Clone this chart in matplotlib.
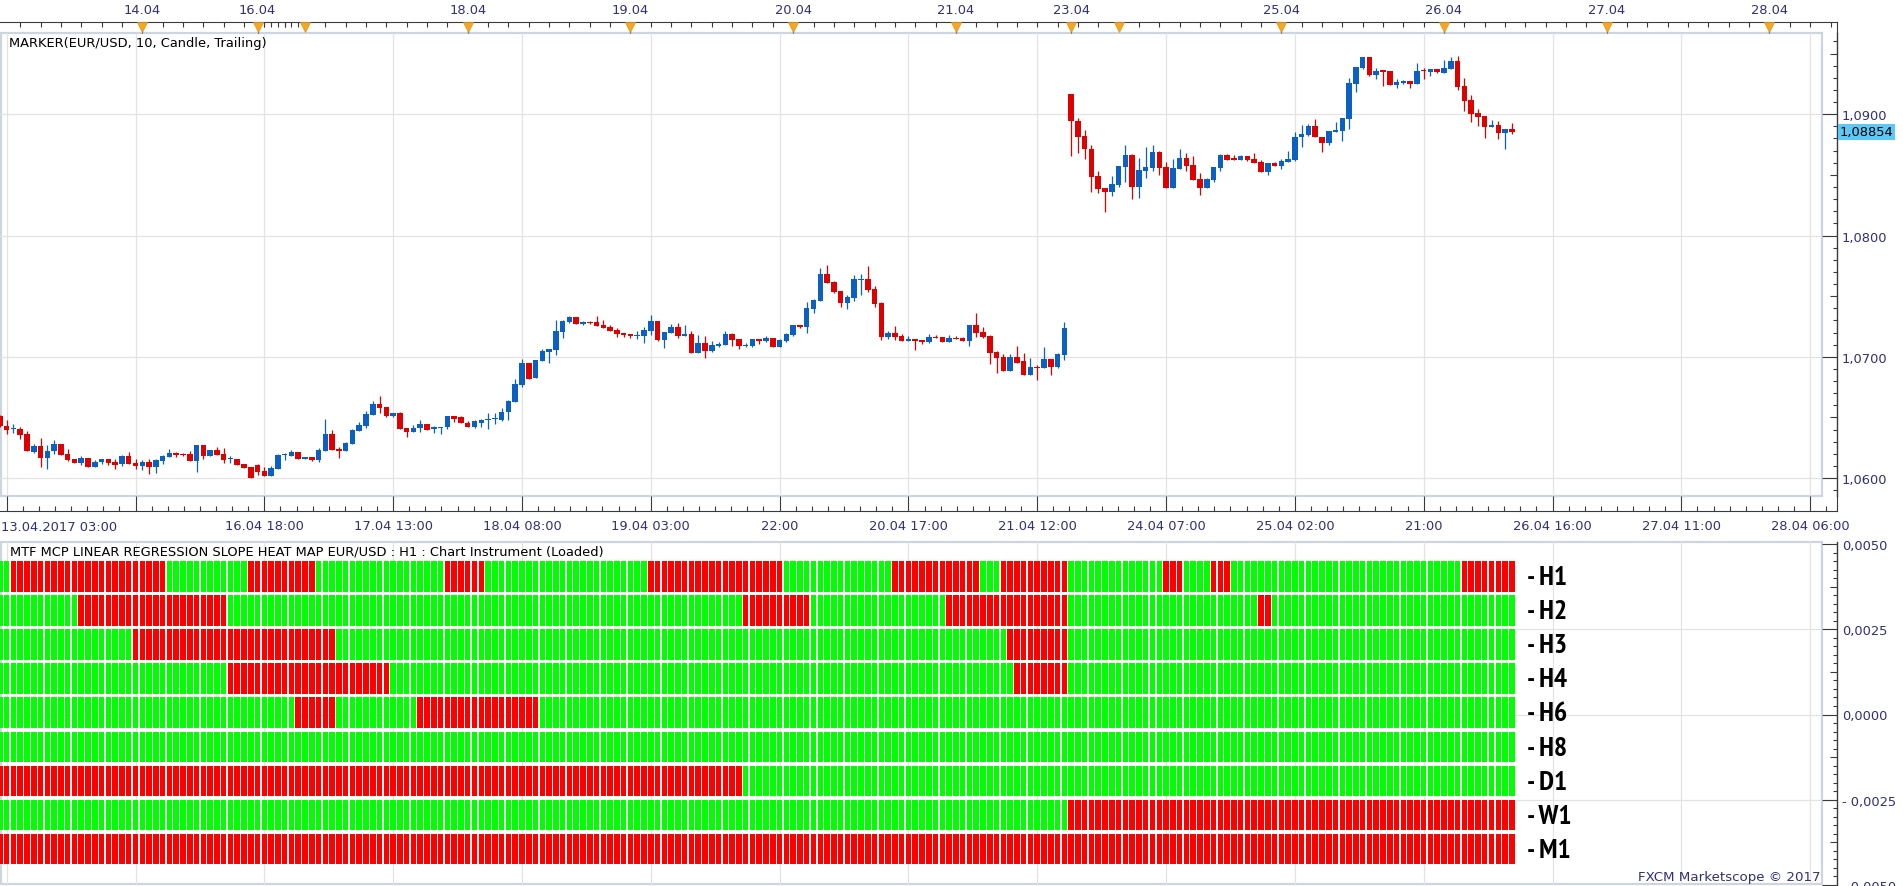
import numpy as np
import matplotlib
matplotlib.use("Agg")
import matplotlib.pyplot as plt
from matplotlib import font_manager as fm
from matplotlib.patches import Rectangle
from matplotlib.ticker import FixedLocator, FuncFormatter

# ---- data: EUR/USD H1 candles (open, high, low, close) ----
opens = [1.06509, 1.06432, 1.06402, 1.06404, 1.06366, 1.06217, 1.06267, 1.06162, 1.06220, 1.06283,
         1.06201, 1.06160, 1.06121, 1.06168, 1.06094, 1.06129, 1.06154, 1.06135, 1.06113, 1.06184,
         1.06127, 1.06102, 1.06135, 1.06094, 1.06143, 1.06176, 1.06209, 1.06201, 1.06201, 1.06143,
         1.06275, 1.06184, 1.06234, 1.06201, 1.06154, 1.06160, 1.06118, 1.06094, 1.06110, 1.06061,
         1.06019, 1.06077, 1.06187, 1.06184, 1.06217, 1.06160, 1.06176, 1.06151, 1.06226, 1.06366,
         1.06242, 1.06226, 1.06283, 1.06391, 1.06432, 1.06523, 1.06613, 1.06589, 1.06516, 1.06533,
         1.06409, 1.06379, 1.06409, 1.06442, 1.06401, 1.06412, 1.06420, 1.06508, 1.06500, 1.06458,
         1.06420, 1.06458, 1.06478, 1.06486, 1.06483, 1.06541, 1.06626, 1.06764, 1.06953, 1.06824,
         1.06962, 1.07039, 1.07055, 1.07204, 1.07283, 1.07325, 1.07270, 1.07283, 1.07283, 1.07259,
         1.07242, 1.07217, 1.07193, 1.07184, 1.07168, 1.07171, 1.07209, 1.07292, 1.07135, 1.07195,
         1.07242, 1.07171, 1.07184, 1.07030, 1.07110, 1.07047, 1.07085, 1.07094, 1.07184, 1.07143,
         1.07088, 1.07088, 1.07143, 1.07127, 1.07151, 1.07077, 1.07127, 1.07176, 1.07259, 1.07242,
         1.07391, 1.07457, 1.07679, 1.07613, 1.07539, 1.07440, 1.07481, 1.07630, 1.07638, 1.07556,
         1.07440, 1.07160, 1.07193, 1.07168, 1.07127, 1.07143, 1.07135, 1.07118, 1.07160, 1.07160,
         1.07118, 1.07151, 1.07151, 1.07127, 1.07259, 1.07201, 1.07168, 1.07036, 1.06995, 1.06887,
         1.06995, 1.06962, 1.06854, 1.06920, 1.06904, 1.06978, 1.06920, 1.07011, 1.09168, 1.08945,
         1.08821, 1.08714, 1.08491, 1.08392, 1.08362, 1.08420, 1.08568, 1.08665, 1.08403, 1.08535,
         1.08557, 1.08689, 1.08566, 1.08395, 1.08552, 1.08640, 1.08582, 1.08467, 1.08395, 1.08461,
         1.08560, 1.08665, 1.08634, 1.08626, 1.08656, 1.08632, 1.08607, 1.08527, 1.08599, 1.08577,
         1.08610, 1.08623, 1.08808, 1.08830, 1.08904, 1.08813, 1.08766, 1.08854, 1.08863, 1.08964,
         1.09250, 1.09382, 1.09473, 1.09325, 1.09358, 1.09358, 1.09237, 1.09261, 1.09275, 1.09250,
         1.09360, 1.09349, 1.09374, 1.09341, 1.09374, 1.09440, 1.09234, 1.09118, 1.09011, 1.08986,
         1.08896, 1.08912, 1.08846, 1.08879]
highs = [1.06523, 1.06481, 1.06448, 1.06421, 1.06388, 1.06283, 1.06333, 1.06275, 1.06316, 1.06283,
         1.06242, 1.06160, 1.06184, 1.06168, 1.06151, 1.06154, 1.06154, 1.06160, 1.06193, 1.06217,
         1.06160, 1.06151, 1.06160, 1.06160, 1.06193, 1.06242, 1.06217, 1.06209, 1.06226, 1.06275,
         1.06275, 1.06234, 1.06259, 1.06250, 1.06184, 1.06160, 1.06118, 1.06094, 1.06118, 1.06094,
         1.06102, 1.06201, 1.06209, 1.06234, 1.06217, 1.06176, 1.06176, 1.06250, 1.06490, 1.06399,
         1.06259, 1.06300, 1.06407, 1.06465, 1.06556, 1.06638, 1.06679, 1.06589, 1.06533, 1.06549,
         1.06417, 1.06434, 1.06475, 1.06442, 1.06428, 1.06425, 1.06508, 1.06508, 1.06508, 1.06467,
         1.06475, 1.06491, 1.06533, 1.06533, 1.06574, 1.06640, 1.06821, 1.06978, 1.06953, 1.06970,
         1.07061, 1.07061, 1.07300, 1.07300, 1.07333, 1.07325, 1.07292, 1.07292, 1.07333, 1.07300,
         1.07259, 1.07234, 1.07193, 1.07184, 1.07209, 1.07242, 1.07341, 1.07292, 1.07201, 1.07267,
         1.07275, 1.07259, 1.07209, 1.07176, 1.07168, 1.07127, 1.07118, 1.07209, 1.07193, 1.07143,
         1.07110, 1.07143, 1.07143, 1.07168, 1.07151, 1.07143, 1.07193, 1.07259, 1.07259, 1.07448,
         1.07473, 1.07729, 1.07754, 1.07622, 1.07539, 1.07506, 1.07671, 1.07679, 1.07745, 1.07580,
         1.07448, 1.07209, 1.07250, 1.07184, 1.07168, 1.07143, 1.07135, 1.07184, 1.07176, 1.07160,
         1.07176, 1.07168, 1.07160, 1.07259, 1.07358, 1.07242, 1.07176, 1.07044, 1.07019, 1.07019,
         1.07085, 1.07028, 1.06986, 1.06929, 1.07077, 1.06978, 1.07028, 1.07283, 1.09168, 1.08970,
         1.08871, 1.08747, 1.08533, 1.08392, 1.08491, 1.08574, 1.08747, 1.08673, 1.08640, 1.08731,
         1.08747, 1.08698, 1.08607, 1.08632, 1.08714, 1.08681, 1.08656, 1.08516, 1.08475, 1.08566,
         1.08673, 1.08673, 1.08665, 1.08665, 1.08656, 1.08681, 1.08623, 1.08599, 1.08607, 1.08632,
         1.08698, 1.08854, 1.08912, 1.08920, 1.08962, 1.08813, 1.08863, 1.08937, 1.08970, 1.09300,
         1.09391, 1.09473, 1.09473, 1.09382, 1.09358, 1.09358, 1.09292, 1.09283, 1.09275, 1.09424,
         1.09382, 1.09374, 1.09374, 1.09448, 1.09473, 1.09481, 1.09300, 1.09160, 1.09044, 1.08986,
         1.08953, 1.08945, 1.08879, 1.08929]
lows = [1.06421, 1.06366, 1.06371, 1.06325, 1.06220, 1.06209, 1.06094, 1.06077, 1.06201, 1.06193,
        1.06138, 1.06121, 1.06105, 1.06088, 1.06094, 1.06113, 1.06110, 1.06077, 1.06096, 1.06118,
        1.06077, 1.06069, 1.06036, 1.06044, 1.06118, 1.06176, 1.06176, 1.06184, 1.06143, 1.06052,
        1.06160, 1.06184, 1.06193, 1.06127, 1.06127, 1.06110, 1.06085, 1.06003, 1.06028, 1.06019,
        1.06019, 1.06077, 1.06151, 1.06184, 1.06160, 1.06160, 1.06143, 1.06135, 1.06226, 1.06234,
        1.06168, 1.06226, 1.06283, 1.06391, 1.06415, 1.06523, 1.06539, 1.06506, 1.06502, 1.06401,
        1.06337, 1.06379, 1.06379, 1.06395, 1.06370, 1.06362, 1.06403, 1.06461, 1.06453, 1.06420,
        1.06412, 1.06420, 1.06403, 1.06445, 1.06469, 1.06478, 1.06626, 1.06755, 1.06813, 1.06824,
        1.06962, 1.06948, 1.07014, 1.07154, 1.07275, 1.07270, 1.07261, 1.07270, 1.07250, 1.07234,
        1.07212, 1.07162, 1.07162, 1.07154, 1.07146, 1.07113, 1.07179, 1.07127, 1.07072, 1.07195,
        1.07154, 1.07171, 1.07030, 1.07030, 1.06989, 1.07039, 1.07077, 1.07094, 1.07088, 1.07063,
        1.07080, 1.07080, 1.07102, 1.07118, 1.07077, 1.07077, 1.07118, 1.07168, 1.07234, 1.07193,
        1.07358, 1.07457, 1.07605, 1.07523, 1.07407, 1.07391, 1.07457, 1.07506, 1.07531, 1.07407,
        1.07135, 1.07143, 1.07135, 1.07127, 1.07127, 1.07052, 1.07102, 1.07110, 1.07151, 1.07118,
        1.07118, 1.07143, 1.07127, 1.07085, 1.07160, 1.07151, 1.06937, 1.06863, 1.06887, 1.06879,
        1.06945, 1.06846, 1.06854, 1.06805, 1.06904, 1.06854, 1.06904, 1.06970, 1.08659, 1.08684,
        1.08632, 1.08362, 1.08354, 1.08197, 1.08329, 1.08403, 1.08445, 1.08304, 1.08313, 1.08478,
        1.08535, 1.08502, 1.08395, 1.08395, 1.08552, 1.08535, 1.08461, 1.08337, 1.08395, 1.08445,
        1.08535, 1.08626, 1.08626, 1.08626, 1.08618, 1.08601, 1.08527, 1.08502, 1.08577, 1.08552,
        1.08610, 1.08618, 1.08733, 1.08824, 1.08808, 1.08692, 1.08750, 1.08854, 1.08783, 1.08882,
        1.09179, 1.09369, 1.09316, 1.09294, 1.09234, 1.09237, 1.09212, 1.09253, 1.09220, 1.09250,
        1.09294, 1.09316, 1.09336, 1.09341, 1.09374, 1.09201, 1.09028, 1.08937, 1.08904, 1.08805,
        1.08896, 1.08797, 1.08714, 1.08838]
closes = [1.06426, 1.06399, 1.06410, 1.06358, 1.06220, 1.06267, 1.06162, 1.06226, 1.06283, 1.06193,
          1.06151, 1.06121, 1.06168, 1.06094, 1.06135, 1.06154, 1.06127, 1.06110, 1.06184, 1.06118,
          1.06102, 1.06135, 1.06094, 1.06151, 1.06184, 1.06209, 1.06193, 1.06193, 1.06143, 1.06275,
          1.06184, 1.06234, 1.06193, 1.06151, 1.06162, 1.06110, 1.06085, 1.06003, 1.06052, 1.06019,
          1.06085, 1.06193, 1.06195, 1.06217, 1.06160, 1.06176, 1.06151, 1.06234, 1.06366, 1.06234,
          1.06226, 1.06292, 1.06399, 1.06440, 1.06531, 1.06613, 1.06580, 1.06514, 1.06533, 1.06401,
          1.06379, 1.06417, 1.06442, 1.06395, 1.06420, 1.06425, 1.06508, 1.06491, 1.06453, 1.06420,
          1.06467, 1.06483, 1.06491, 1.06494, 1.06549, 1.06632, 1.06772, 1.06953, 1.06821, 1.06970,
          1.07044, 1.07061, 1.07209, 1.07292, 1.07325, 1.07270, 1.07283, 1.07275, 1.07250, 1.07234,
          1.07212, 1.07184, 1.07176, 1.07171, 1.07176, 1.07217, 1.07292, 1.07135, 1.07201, 1.07242,
          1.07171, 1.07184, 1.07030, 1.07110, 1.07047, 1.07094, 1.07102, 1.07184, 1.07138, 1.07088,
          1.07096, 1.07143, 1.07127, 1.07151, 1.07077, 1.07135, 1.07184, 1.07259, 1.07242, 1.07399,
          1.07465, 1.07679, 1.07605, 1.07531, 1.07440, 1.07490, 1.07638, 1.07638, 1.07547, 1.07432,
          1.07160, 1.07193, 1.07160, 1.07127, 1.07143, 1.07127, 1.07118, 1.07160, 1.07151, 1.07118,
          1.07151, 1.07143, 1.07127, 1.07259, 1.07193, 1.07160, 1.07028, 1.06986, 1.06887, 1.06995,
          1.06953, 1.06854, 1.06920, 1.06904, 1.06978, 1.06920, 1.07019, 1.07234, 1.08940, 1.08816,
          1.08709, 1.08486, 1.08387, 1.08362, 1.08425, 1.08574, 1.08665, 1.08403, 1.08541, 1.08566,
          1.08689, 1.08560, 1.08395, 1.08557, 1.08640, 1.08577, 1.08461, 1.08395, 1.08467, 1.08566,
          1.08665, 1.08626, 1.08626, 1.08656, 1.08626, 1.08601, 1.08527, 1.08599, 1.08577, 1.08615,
          1.08632, 1.08813, 1.08838, 1.08904, 1.08808, 1.08766, 1.08863, 1.08871, 1.08970, 1.09259,
          1.09391, 1.09473, 1.09325, 1.09358, 1.09352, 1.09237, 1.09267, 1.09275, 1.09250, 1.09358,
          1.09355, 1.09374, 1.09344, 1.09382, 1.09440, 1.09226, 1.09110, 1.09003, 1.08978, 1.08896,
          1.08912, 1.08846, 1.08879, 1.08854]
last_price = 1.08854

# heat map rows and the bar ranges (start, end) that are red (slope down); the rest is green
heat_rows = ["H1", "H2", "H3", "H4", "H6", "H8", "D1", "W1", "M1"]
red_runs = {
    "H1": [(2, 25), (37, 47), (66, 72), (96, 116), (132, 145), (148, 158), (172, 175), (179, 182), (216, 224)],
    "H2": [(12, 34), (110, 120), (140, 158), (186, 188)],
    "H3": [(20, 50), (149, 158)],
    "H4": [(34, 58), (150, 158)],
    "H6": [(44, 50), (62, 80)],
    "H8": [],
    "D1": [(0, 110)],
    "W1": [(158, 224)],
    "M1": [(0, 224)],
}

# time axes (bar index -> label)
bottom_tick_idx = [1, 20, 39, 58, 77, 96, 115, 134, 153, 172, 191, 210, 229, 248, 267]
bottom_labels = ["", "", "16.04 18:00", "17.04 13:00", "18.04 08:00", "19.04 03:00", "22:00",
                 "20.04 17:00", "21.04 12:00", "24.04 07:00", "25.04 02:00", "21:00",
                 "26.04 16:00", "27.04 11:00", "28.04 06:00"]
first_label = "13.04.2017 03:00"
top_label_idx = [21, 38, 69, 93, 117, 141, 158, 189, 213, 237, 261]
top_labels = ["14.04", "16.04", "18.04", "19.04", "20.04", "21.04", "23.04", "25.04", "26.04", "27.04", "28.04"]
top_marker_idx = [21, 38, 45, 69, 93, 117, 141, 158, 165, 189, 213, 237, 261]

# ---- layout helpers (pixels of the 1903x887 image) ----
W, H, DPI = 1903, 887, 100
STEP = 6.78          # px per bar


def idx(px):
    return (px + 0.1) / STEP


def rect(x0, y0, x1, y1):
    return [x0 / W, 1 - y1 / H, (x1 - x0) / W, (y1 - y0) / H]


def price_at(y):
    return 1.09 - (y - 115.2) / 12130


def slope_at(y):
    return 0.005 - (y - 545) / 34100


XLIM = (idx(0), idx(1837))
NAVY = "#30307a"
AXIS = "#3a3a3a"
GRID = "#e3e3e3"
FRAME = "#cdd5df"
BLUE = "#0a61c3"
RED = "#df0000"
HRED = "#ff0000"
HGREEN = "#00ff00"
FS = 9.4

plt.rcParams["font.family"] = ["DejaVu Sans"]

# narrow face for the row labels: prefer a "Narrow" family, then a condensed one
narrow_prop = None
fonts = fm.fontManager.ttflist
pref = ([f for f in fonts if "Narrow" in f.name and f.weight in ("bold", 700)] +
        [f for f in fonts if "Narrow" in f.name] +
        [f for f in fonts if ("Condensed" in f.name or "condensed" in str(f.stretch)) and f.weight in ("bold", 700)] +
        [f for f in fonts if "Condensed" in f.name or "condensed" in str(f.stretch)])
if pref:
    narrow_prop = fm.FontProperties(fname=pref[0].fname)
else:
    narrow_prop = fm.FontProperties(family="DejaVu Sans", weight="bold")

fig = plt.figure(figsize=(W / DPI, H / DPI), dpi=DPI)
fig.patch.set_facecolor("white")


def style_right_axis(ax, majors, minors, mids, fmt, ax_width_px=1837):
    for s in ["top", "left", "bottom"]:
        ax.spines[s].set_visible(False)
    ax.spines["right"].set_color(AXIS)
    ax.spines["right"].set_linewidth(1.0)
    ax.yaxis.tick_right()
    ax.yaxis.set_major_locator(FixedLocator(majors))
    ax.yaxis.set_minor_locator(FixedLocator(minors))
    ax.yaxis.set_major_formatter(FuncFormatter(fmt))
    ax.tick_params(axis="y", which="major", direction="in", length=10.8, width=0.8,
                   color=AXIS, labelcolor=NAVY, labelsize=FS, pad=3.6)
    ax.tick_params(axis="y", which="minor", direction="in", length=3.0, width=0.8, color=AXIS)
    ax.hlines(mids, 1 - 7 / ax_width_px, 1, transform=ax.get_yaxis_transform(),
              colors=AXIS, lw=0.8, clip_on=False)


# ---- price panel ----
ax1 = fig.add_axes(rect(0, 34, 1837, 497))
ax1.set_facecolor("none")
ax1.set_xlim(XLIM)
ax1.set_ylim(price_at(497), price_at(34))
p_minor = [round(v, 3) for v in np.arange(1.057, 1.0975, 0.001) if round(v * 1000) % 5 != 0]
style_right_axis(ax1, [1.06, 1.07, 1.08, 1.09], p_minor, [1.065, 1.075, 1.085, 1.095],
                 lambda v, _: f"{v:.4f}".replace(".", ","))
ax1.set_xticks(bottom_tick_idx)
ax1.tick_params(axis="x", length=0, labelbottom=False)
ax1.grid(True, which="major", color=GRID, lw=0.9)
ax1.set_axisbelow(True)

o = np.array(opens)
c = np.array(closes)
x = np.arange(len(o))
cols = np.where(c > o, BLUE, RED)
ax1.vlines(x, lows, highs, colors=cols, lw=0.9, zorder=3)
ax1.bar(x, np.maximum(np.abs(c - o), 0.00009), bottom=np.minimum(o, c), width=0.82,
        color=cols, linewidth=0, zorder=4)

ax1.text(1 + 2.5 / 1837, last_price, f"{last_price:.5f}".replace(".", ","),
         transform=ax1.get_yaxis_transform(), ha="left", va="center", fontsize=FS, color="black",
         bbox=dict(boxstyle="square,pad=0.12", fc="#5cc8f6", ec="none"), clip_on=False, zorder=6)
ax1.text(idx(9), price_at(44), "MARKER(EUR/USD, 10, Candle, Trailing)", ha="left", va="center",
         fontsize=FS, color="black")

# ---- top date axis ----
ax_top = fig.add_axes(rect(0, 23, 1837, 34))
ax_top.set_facecolor("none")
ax_top.set_xlim(XLIM)
ax_top.set_ylim(0, 1)
for s in ["left", "bottom"]:
    ax_top.spines[s].set_visible(False)
for s in ["top", "right"]:
    ax_top.spines[s].set_color(AXIS)
ax_top.set_yticks([])
ax_top.xaxis.tick_top()
ax_top.set_xticks(top_label_idx)
ax_top.set_xticklabels(top_labels)
top_minor = [v for v in list(range(0, 271, 3)) + list(range(38, 46)) if v not in top_marker_idx]
ax_top.xaxis.set_minor_locator(FixedLocator(top_minor))
ax_top.tick_params(axis="x", which="major", direction="in", length=7.9, width=0.8, color=AXIS,
                   labelcolor=NAVY, labelsize=FS, pad=4.0)
ax_top.tick_params(axis="x", which="minor", direction="in", length=3.6, width=0.8, color=AXIS)
ax_top.plot(top_marker_idx, [0.55] * len(top_marker_idx), ls="none", marker="v", ms=6.5,
            color="#f7a624", mec="#e39512", mew=0.5, clip_on=False, zorder=5)

# ---- bottom time axis ----
ax_bot = fig.add_axes(rect(0, 497, 1837, 512))
ax_bot.set_facecolor("none")
ax_bot.set_xlim(XLIM)
for s in ["left", "top"]:
    ax_bot.spines[s].set_visible(False)
for s in ["bottom", "right"]:
    ax_bot.spines[s].set_color(AXIS)
ax_bot.set_yticks([])
ax_bot.set_xticks(bottom_tick_idx)
ax_bot.set_xticklabels(bottom_labels)
ax_bot.xaxis.set_minor_locator(FixedLocator([1 + 19 * k / 8 for k in range(0, 8 * 15)]))
ax_bot.tick_params(axis="x", which="major", direction="in", length=10.8, width=0.8, color=AXIS,
                   labelcolor=NAVY, labelsize=FS, pad=6.0)
ax_bot.tick_params(axis="x", which="minor", direction="in", length=3.6, width=0.8, color=AXIS)
ax_bot.text(idx(1), -0.6, first_label, transform=ax_bot.get_xaxis_transform(), ha="left", va="top",
            fontsize=FS, color=NAVY)

# ---- heat map panel ----
ax2 = fig.add_axes(rect(0, 543, 1837, 887))
ax2.set_facecolor("none")
ax2.set_xlim(XLIM)
ax2.set_ylim(slope_at(887), slope_at(543))
s_minor = [round(v, 5) for v in np.arange(-0.005, 0.00501, 0.00025) if round(v / 0.00025) % 5 != 0]
style_right_axis(ax2, [-0.005, -0.0025, 0, 0.0025, 0.005], s_minor, [-0.00375, -0.00125, 0.00125, 0.00375],
                 lambda v, _: ("- " if v < -1e-9 else "") + f"{abs(v):.4f}".replace(".", ","))
ax2.set_xticks([])
for v in [0.0025, 0, -0.0025]:
    ax2.axhline(v, color=GRID, lw=0.9, zorder=0)
for v in bottom_tick_idx:
    ax2.axvline(v, color=GRID, lw=0.9, zorder=0)
ax2.text(idx(10), slope_at(552), "MTF MCP LINEAR REGRESSION SLOPE HEAT MAP EUR/USD : H1 : Chart Instrument (Loaded)",
         ha="left", va="center", fontsize=FS, color="black")
ax2.text(idx(1820), slope_at(877), "FXCM Marketscope \u00a9 2017", ha="right", va="center",
         fontsize=9.6, color=NAVY)

ROW = 34.1
ax_heat = fig.add_axes(rect(0, 543, 1837, 887))
ax_heat.axis("off")
ax_heat.set_xlim(XLIM)
ax_heat.set_ylim((887 - 562) / ROW, -(562 - 543) / ROW)
nbars = len(opens)
for r, name in enumerate(heat_rows):
    colors = np.array([HGREEN] * nbars, dtype=object)
    for a, b in red_runs[name]:
        colors[a:b] = HRED
    ax_heat.bar(np.arange(nbars), 0.9, bottom=r, width=0.82, color=list(colors), linewidth=0)
    ax_heat.text(idx(1527), r + 0.47, "- " + name, ha="left", va="center",
                 fontproperties=narrow_prop, fontsize=20, color="black")

# ---- panel frames ----
for (x0, y0, x1, y1) in [(0.5, 34, 1822, 497), (0.5, 543, 1822, 885)]:
    fig.add_artist(Rectangle((x0 / W, 1 - y1 / H), (x1 - x0) / W, (y1 - y0) / H,
                             transform=fig.transFigure, fill=False, ec=FRAME, lw=1.6, zorder=0))

fig.savefig("out.png", dpi=DPI, facecolor="white")
